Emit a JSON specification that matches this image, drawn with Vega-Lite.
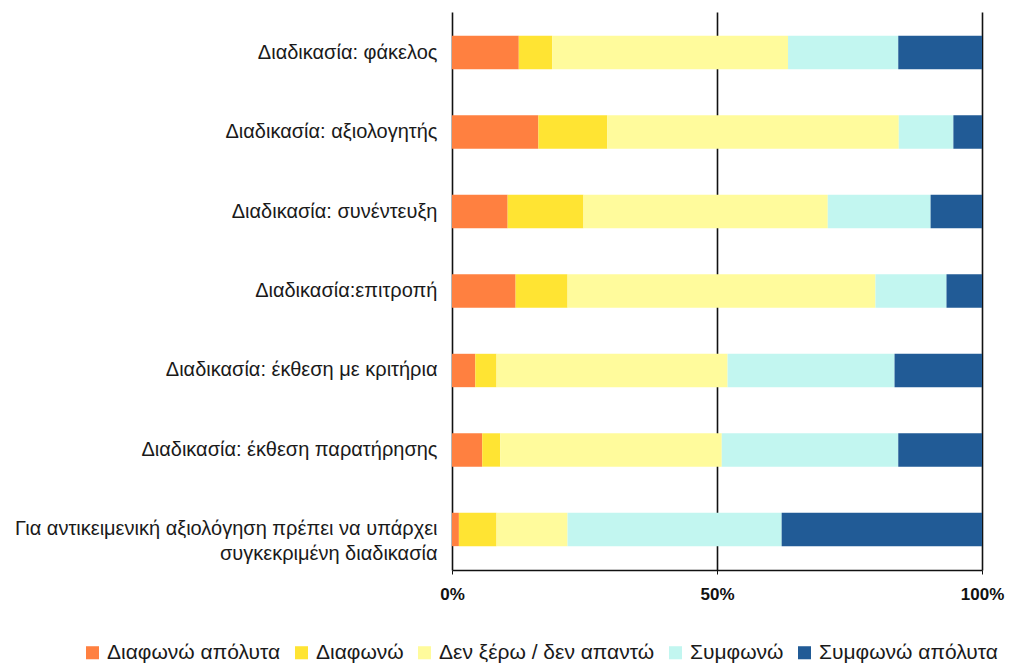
{
  "$schema": "https://vega.github.io/schema/vega-lite/v6.json",
  "autosize": {"type": "none"},
  "padding": {"left": 452, "top": 12, "right": 39, "bottom": 96},
  "width": 530,
  "height": 558,
  "background": "white",
  "data": {"values": [
    {"q": "Διαδικασία: φάκελος", "r": "Διαφωνώ απόλυτα", "k": 1, "v": 12.6},
    {"q": "Διαδικασία: φάκελος", "r": "Διαφωνώ", "k": 2, "v": 6.3},
    {"q": "Διαδικασία: φάκελος", "r": "Δεν ξέρω / δεν απαντώ", "k": 3, "v": 44.5},
    {"q": "Διαδικασία: φάκελος", "r": "Συμφωνώ", "k": 4, "v": 20.8},
    {"q": "Διαδικασία: φάκελος", "r": "Συμφωνώ απόλυτα", "k": 5, "v": 15.8},
    {"q": "Διαδικασία: αξιολογητής", "r": "Διαφωνώ απόλυτα", "k": 1, "v": 16.3},
    {"q": "Διαδικασία: αξιολογητής", "r": "Διαφωνώ", "k": 2, "v": 13.0},
    {"q": "Διαδικασία: αξιολογητής", "r": "Δεν ξέρω / δεν απαντώ", "k": 3, "v": 55.0},
    {"q": "Διαδικασία: αξιολογητής", "r": "Συμφωνώ", "k": 4, "v": 10.3},
    {"q": "Διαδικασία: αξιολογητής", "r": "Συμφωνώ απόλυτα", "k": 5, "v": 5.4},
    {"q": "Διαδικασία: συνέντευξη", "r": "Διαφωνώ απόλυτα", "k": 1, "v": 10.5},
    {"q": "Διαδικασία: συνέντευξη", "r": "Διαφωνώ", "k": 2, "v": 14.3},
    {"q": "Διαδικασία: συνέντευξη", "r": "Δεν ξέρω / δεν απαντώ", "k": 3, "v": 46.1},
    {"q": "Διαδικασία: συνέντευξη", "r": "Συμφωνώ", "k": 4, "v": 19.4},
    {"q": "Διαδικασία: συνέντευξη", "r": "Συμφωνώ απόλυτα", "k": 5, "v": 9.7},
    {"q": "Διαδικασία:επιτροπή", "r": "Διαφωνώ απόλυτα", "k": 1, "v": 12.0},
    {"q": "Διαδικασία:επιτροπή", "r": "Διαφωνώ", "k": 2, "v": 9.8},
    {"q": "Διαδικασία:επιτροπή", "r": "Δεν ξέρω / δεν απαντώ", "k": 3, "v": 58.1},
    {"q": "Διαδικασία:επιτροπή", "r": "Συμφωνώ", "k": 4, "v": 13.4},
    {"q": "Διαδικασία:επιτροπή", "r": "Συμφωνώ απόλυτα", "k": 5, "v": 6.7},
    {"q": "Διαδικασία: έκθεση με κριτήρια", "r": "Διαφωνώ απόλυτα", "k": 1, "v": 4.4},
    {"q": "Διαδικασία: έκθεση με κριτήρια", "r": "Διαφωνώ", "k": 2, "v": 4.0},
    {"q": "Διαδικασία: έκθεση με κριτήρια", "r": "Δεν ξέρω / δεν απαντώ", "k": 3, "v": 43.6},
    {"q": "Διαδικασία: έκθεση με κριτήρια", "r": "Συμφωνώ", "k": 4, "v": 31.5},
    {"q": "Διαδικασία: έκθεση με κριτήρια", "r": "Συμφωνώ απόλυτα", "k": 5, "v": 16.5},
    {"q": "Διαδικασία: έκθεση παρατήρησης", "r": "Διαφωνώ απόλυτα", "k": 1, "v": 5.7},
    {"q": "Διαδικασία: έκθεση παρατήρησης", "r": "Διαφωνώ", "k": 2, "v": 3.4},
    {"q": "Διαδικασία: έκθεση παρατήρησης", "r": "Δεν ξέρω / δεν απαντώ", "k": 3, "v": 41.8},
    {"q": "Διαδικασία: έκθεση παρατήρησης", "r": "Συμφωνώ", "k": 4, "v": 33.3},
    {"q": "Διαδικασία: έκθεση παρατήρησης", "r": "Συμφωνώ απόλυτα", "k": 5, "v": 15.8},
    {"q": "Για αντικειμενική αξιολόγηση πρέπει να υπάρχει|συγκεκριμένη διαδικασία", "r": "Διαφωνώ απόλυτα", "k": 1, "v": 1.3},
    {"q": "Για αντικειμενική αξιολόγηση πρέπει να υπάρχει|συγκεκριμένη διαδικασία", "r": "Διαφωνώ", "k": 2, "v": 7.1},
    {"q": "Για αντικειμενική αξιολόγηση πρέπει να υπάρχει|συγκεκριμένη διαδικασία", "r": "Δεν ξέρω / δεν απαντώ", "k": 3, "v": 13.4},
    {"q": "Για αντικειμενική αξιολόγηση πρέπει να υπάρχει|συγκεκριμένη διαδικασία", "r": "Συμφωνώ", "k": 4, "v": 40.4},
    {"q": "Για αντικειμενική αξιολόγηση πρέπει να υπάρχει|συγκεκριμένη διαδικασία", "r": "Συμφωνώ απόλυτα", "k": 5, "v": 37.8}
  ]},
  "mark": {"type": "bar"},
  "encoding": {
    "y": {
      "field": "q", "type": "nominal", "sort": null,
      "scale": {"paddingInner": 0.58, "paddingOuter": 0.3},
      "axis": {
        "title": null, "ticks": false, "domain": false,
        "labelExpr": "split(datum.value, '|')",
        "labelFont": "Liberation Sans", "labelFontSize": 20, "labelColor": "#1a1a1a",
        "labelPadding": 15, "labelLimit": 500, "labelLineHeight": 25
      }
    },
    "x": {
      "field": "v", "type": "quantitative", "stack": "normalize",
      "scale": {"domain": [0, 1], "nice": false},
      "axis": {
        "title": null, "values": [0, 0.5, 1], "format": ".0%",
        "grid": true, "gridColor": "#111111", "gridWidth": 1.6, "gridOpacity": 1,
        "domainColor": "#111111", "domainWidth": 1.6,
        "tickColor": "#111111", "tickSize": 4,
        "labelFont": "Liberation Sans", "labelFontSize": 17, "labelFontWeight": "bold",
        "labelColor": "#111111", "labelPadding": 12, "labelFlush": false
      }
    },
    "color": {
      "field": "r", "type": "nominal",
      "sort": ["Διαφωνώ απόλυτα", "Διαφωνώ", "Δεν ξέρω / δεν απαντώ", "Συμφωνώ", "Συμφωνώ απόλυτα"],
      "scale": {
        "domain": ["Διαφωνώ απόλυτα", "Διαφωνώ", "Δεν ξέρω / δεν απαντώ", "Συμφωνώ", "Συμφωνώ απόλυτα"],
        "range": ["#FF8040", "#FFE433", "#FFFB9C", "#C2F6F0", "#215B96"]
      },
      "legend": {
        "title": null, "orient": "none", "direction": "horizontal",
        "legendX": -370, "legendY": 630,
        "symbolType": "square", "symbolSize": 170, "symbolStrokeWidth": 0,
        "labelFont": "Liberation Sans", "labelFontSize": 21, "labelColor": "#1a1a1a",
        "labelLimit": 400, "columnPadding": 10, "labelOffset": 4
      }
    },
    "order": {"field": "k", "type": "quantitative"}
  },
  "config": {"view": {"stroke": null}}
}
